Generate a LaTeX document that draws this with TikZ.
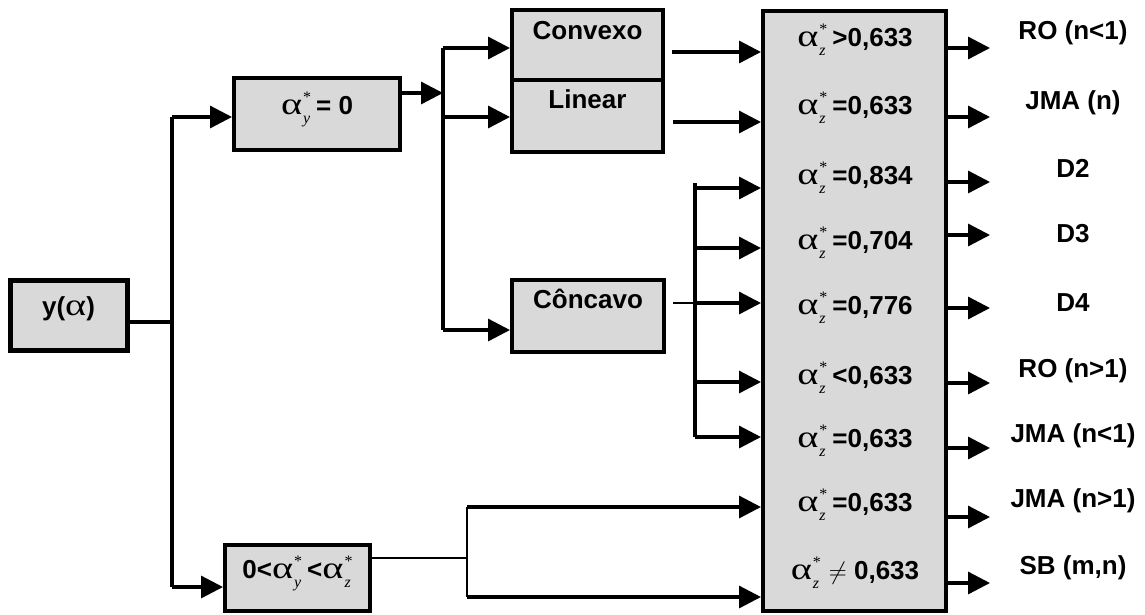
\documentclass[tikz,border=0pt]{standalone}
\usepackage{fontspec}
\setmainfont{Liberation Sans}
\newfontfamily\grk{Liberation Serif}
\usetikzlibrary{arrows.meta}
\definecolor{boxgray}{HTML}{D9D9D9}
\newcommand\galpha{{\grk\mdseries\fontsize{31}{31}\selectfont\scalebox{1.3}[1]{α}}}
\newcommand\supsub[1]{\hspace{1pt}\rlap{\raisebox{-9pt}{\grk\mdseries\itshape\fontsize{16}{16}\selectfont #1}}\raisebox{12pt}{\grk\mdseries\fontsize{16}{16}\selectfont *}\hspace{5pt}}
\newcommand\az{\galpha\supsub{z}}
\newcommand\ay{\galpha\supsub{y}}
\tikzset{
  box/.style={draw, line width=4pt, fill=boxgray, inner sep=0pt},
  txt/.style={font=\fontsize{26}{30}\selectfont\bfseries, inner sep=0pt, anchor=base},
  conn/.style={line width=3.3pt},
  arr/.style={conn, -{Triangle[length=22pt,width=22pt]}},
  thinln/.style={line width=2pt},
}
\begin{document}
\begin{tikzpicture}[x=1pt,y=-1pt]
\useasboundingbox (0,0) rectangle (1145,614);
% boxes
\node[box, line width=5pt, minimum width=117, minimum height=70] (ya) at (68.5,315) {};
\node[box, minimum width=166, minimum height=72] (ay) at (317,114) {};
\node[box, minimum width=151, minimum height=70] (cvx) at (587.5,45) {};
\node[box, minimum width=151, minimum height=72] (lin) at (587.5,116) {};
\node[box, minimum width=152, minimum height=72] (ccv) at (588,316) {};
\node[box, minimum width=145, minimum height=66] (bb) at (297.5,578) {};
\node[box, minimum width=183, minimum height=600] (B) at (854.5,311) {};
% box texts
\node[txt] (tya) at (68.5,315) {y(\galpha)};
\node[txt] (tay) at (317,114) {\ay= 0};
\node[txt] (tcvx) at (587.5,39) {Convexo};
\node[txt] (tlin) at (587.5,108) {Linear};
\node[txt] (tccv) at (588,308) {Côncavo};
\node[txt] (tbb) at (297.5,578) {0<\ay<\az};
% big box rows
\node[txt] (r1) at (855,46) {\az>0,633};
\node[txt] (r2) at (855,114) {\az=0,633};
\node[txt] (r3) at (855,184) {\az=0,834};
\node[txt] (r4) at (855,249) {\az=0,704};
\node[txt] (r5) at (855,314) {\az=0,776};
\node[txt] (r6) at (855,384) {\az<0,633};
\node[txt] (r7) at (855,447) {\az=0,633};
\node[txt] (r8) at (855,511) {\az=0,633};
\node[txt] (r9) at (855,579) {\az\hspace{3pt}{\fontsize{30}{30}\selectfont$\neq$} 0,633};
% right labels
\node[txt] (l1) at (1073,39) {RO (n<1)};
\node[txt] (l2) at (1073,109) {JMA (n)};
\node[txt] (l3) at (1073,177) {D2};
\node[txt] (l4) at (1073,242) {D3};
\node[txt] (l5) at (1073,311) {D4};
\node[txt] (l6) at (1073,377) {RO (n>1)};
\node[txt] (l7) at (1073,442) {JMA (n<1)};
\node[txt] (l8) at (1073,507) {JMA (n>1)};
\node[txt] (l9) at (1073,574) {SB (m,n)};
% trunk from y(alpha)
\coordinate (t1) at (172,117);
\coordinate (t2) at (172,587);
\coordinate (jm) at (172,322);
\draw[conn] (ya.east|-jm) -- (jm);
\draw[conn] (t1) -- (t2);
\draw[arr] (t1) -- (ay.west|-t1);
\draw[arr] (t2) -- (bb.west|-t2);
% from alpha_y = 0
\coordinate (v2) at (443,93);
\coordinate (c1) at (443,48);
\coordinate (c2) at (443,117);
\coordinate (c3) at (443,330);
\draw[arr] (ay.east|-v2) -- (v2);
\draw[conn] (c1) -- (c3);
\draw[arr] (c1) -- (cvx.west|-c1);
\draw[arr] (c2) -- (lin.west|-c2);
\draw[arr] (c3) -- (ccv.west|-c3);
% to big box
\coordinate (s1) at (672,52);
\coordinate (s2) at (673,122);
\draw[arr] (s1) -- (B.west|-s1);
\draw[arr] (s2) -- (B.west|-s2);
\coordinate (s3) at (673,303);
\coordinate (s3b) at (695,303);
\draw[thinln] (s3) -- (s3b);
\draw[arr] (s3b) -- (B.west|-s3b);
\coordinate (b1) at (695,183);
\coordinate (b2) at (695,437);
\draw[conn] (b1) -- (b2);
\foreach \yy [count=\i] in {188,248,382,437} {
  \coordinate (bk\i) at (695,\yy);
  \draw[arr] (bk\i) -- (B.west|-bk\i);
}
% from bottom box
\coordinate (q0) at (467,558);
\coordinate (q1) at (467,507);
\coordinate (q2) at (467,597);
\draw[thinln] (bb.east|-q0) -- (q0);
\draw[thinln] (q1) -- (q2);
\draw[arr] (q1) -- (B.west|-q1);
\draw[arr] (q2) -- (B.west|-q2);
% outputs
\foreach \yy [count=\i] in {48,117,182,235,308,383,448,517,583} {
  \coordinate (o\i) at (990,\yy);
  \draw[arr] (B.east|-o\i) -- (o\i);
}
\end{tikzpicture}
\end{document}
